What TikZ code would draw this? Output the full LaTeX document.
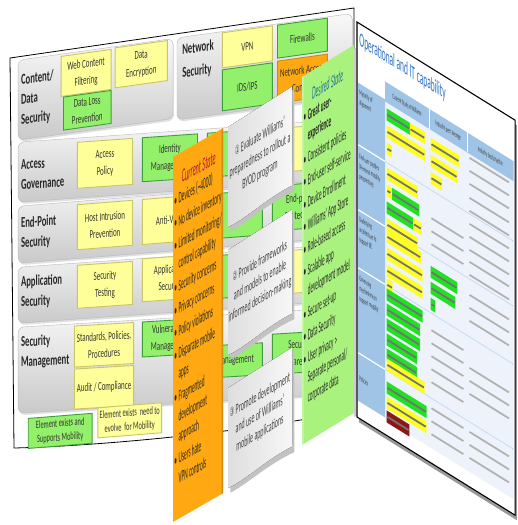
\documentclass[tikz,border=0pt]{standalone}
\usepackage{fontspec}
\setmainfont{Carlito}
\newfontfamily\numfont{DejaVu Sans}
\usetikzlibrary{positioning,shadows,calc}

\definecolor{yelFill}{HTML}{FFFF99}
\definecolor{yelEdge}{HTML}{C9C46A}
\definecolor{grnFill}{HTML}{93F06A}
\definecolor{grnEdge}{HTML}{3E9E3E}
\definecolor{orgFill}{HTML}{FFA812}
\definecolor{orgEdge}{HTML}{D08A10}
\definecolor{curRed}{HTML}{B0123A}
\definecolor{desFill}{HTML}{A9F27E}
\definecolor{desTeal}{HTML}{1C6E8E}
\definecolor{tblBlue}{HTML}{9FC4E6}
\definecolor{tblPale}{HTML}{EEF3FB}
\definecolor{capBlue}{HTML}{2E72C0}
\definecolor{hlYellow}{HTML}{FFFF22}
\definecolor{hlGreen}{HTML}{22E022}
\definecolor{hlRed}{HTML}{8E1616}

\tikzstyle{secRow}=[draw=gray!55, rounded corners=6pt, top color=gray!5, bottom color=gray!42, anchor=north west, inner sep=0pt, drop shadow={opacity=0.25, shadow xshift=1pt, shadow yshift=-2pt}]
\tikzstyle{rowLabel}=[anchor=west, align=left, inner sep=0pt, font=\fontsize{15}{20}\selectfont\bfseries, text=black!85]
\tikzstyle{yelBox}=[draw=yelEdge, fill=yelFill, line width=0.9pt, anchor=north west, align=center, inner sep=1pt, minimum width=95, font=\fontsize{12}{17}\selectfont, text=black!80]
\tikzstyle{grnBox}=[yelBox, draw=grnEdge, fill=grnFill]
\tikzstyle{orgBox}=[yelBox, draw=orgEdge, fill=orgFill]
\tikzstyle{legendBox}=[font=\fontsize{11}{14}\selectfont, minimum width=110, minimum height=30]
\tikzstyle{stateList}=[anchor=north west, align=left, inner sep=0pt, font=\fontsize{16}{20}\selectfont, text=black!85]
\tikzstyle{curHead}=[inner sep=0pt, font=\fontsize{19}{22}\selectfont\itshape, text=curRed]
\tikzstyle{desHead}=[inner sep=0pt, font=\fontsize{18}{22}\selectfont\itshape, text=desTeal]
\tikzstyle{notePaper}=[left color=gray!26, right color=gray!6]
\tikzstyle{noteShade}=[fill=black!24]
\tikzstyle{noteText}=[align=center, inner sep=0pt, font=\fontsize{14.5}{19}\selectfont, text=black!74]
\tikzstyle{capHead}=[anchor=west, inner sep=0pt, font=\fontsize{19.5}{22}\selectfont, text=capBlue]
\tikzstyle{tblHead}=[inner sep=0pt, font=\fontsize{7.5}{9}\selectfont, text=black!80]
\tikzstyle{tblRow}=[anchor=north west, align=left, inner sep=0pt, font=\fontsize{7.5}{10}\selectfont, text=black!80]

\newcommand{\itm}{\makebox[13pt][l]{\textbullet}}
\newcommand{\cnt}{\hspace*{13pt}}
\newcommand{\hlbar}[4]{\fill[#1] (#2,#3) rectangle ++(#4,12); \draw[black!55, line width=1.8pt] ($(#2,#3)+(2,6)$) -- ++(#4-4,0);}
\newcommand{\txtln}[3]{\draw[gray!60, line width=1.8pt] (#1,#2) -- ++(#3,0);}

\begin{document}
\begin{tikzpicture}[x=1pt, y=-1pt]
    \useasboundingbox (0,0) rectangle (518,525);

    % Security Framework Page
    \draw[line width=0.8pt, fill=white] (10,58) -- (354,8) -- (354,410) .. controls (250,432) and (100,446) .. (14,448) -- cycle;

    % Row 1: Content and Network
    \begin{scope}[shift={(18,60)}, yslant=0.14, xscale=0.58, transform shape]
        \node[secRow, minimum width=267, minimum height=80] (rowContent) at (0,0) {};
        \node[secRow, minimum width=302, minimum height=82] (rowNetwork) at (274,0) {};
        \node[rowLabel] (lblContent) at (5,41) {Content/\\Data\\Security};
        \node[yelBox, minimum width=86, minimum height=40] (bxWeb) at (74,2) {Web Content\\Filtering};
        \node[grnBox, minimum width=82, minimum height=33] (bxLoss) at (78,43) {Data Loss\\Prevention};
        \node[yelBox, minimum width=90, minimum height=40] (bxEncrypt) at (167,1) {Data\\Encryption};
        \node[rowLabel, font=\fontsize{15}{23}\selectfont\bfseries] (lblNetwork) at (283,25) {Network\\Security};
        \node[yelBox, minimum width=86, minimum height=35] (bxVpn) at (352,1) {VPN};
        \node[grnBox, minimum width=86, minimum height=41] (bxIds) at (352,38) {IDS/IPS};
        \node[grnBox, minimum width=86, minimum height=33] (bxFirewall) at (447,1) {Firewalls};
        \node[orgBox, minimum width=86, minimum height=42] (bxNac) at (447,37) {Network Access\\Control};
    \end{scope}

    % Row 2: Access Governance
    \begin{scope}[shift={(18,142)}, yslant=0.07, xscale=0.58, transform shape]
        \node[secRow, minimum width=576, minimum height=60] (rowAccess) at (0,0) {};
        \node[rowLabel] (lblAccess) at (5,33) {Access\\Governance};
        \node[yelBox, minimum height=46] (bxPolicy) at (102,4) {Access\\Policy};
        \node[grnBox, minimum height=44] (bxIdentity) at (214,4) {Identity\\Management};
        \node[grnBox, minimum height=44] (bxAccA) at (326,4) {};
        \node[yelBox, minimum height=44] (bxAccB) at (438,4) {};
    \end{scope}

    % Row 3: End-Point Security
    \begin{scope}[shift={(18,206)}, yslant=0.08, xscale=0.58, transform shape]
        \node[secRow, minimum width=576, minimum height=57] (rowEndpoint) at (0,0) {};
        \node[rowLabel] (lblEndpoint) at (5,28) {End-Point\\Security};
        \node[yelBox, minimum height=45] (bxHips) at (102,3) {Host Intrusion\\Prevention};
        \node[yelBox, minimum height=45] (bxAntiVirus) at (214,3) {Anti-Virus};
        \node[grnBox, minimum height=45] (bxEpA) at (326,3) {};
        \node[grnBox, minimum height=45] (bxEpProt) at (438,0) {End-point\\Protection};
    \end{scope}

    % Row 4: Application Security
    \begin{scope}[shift={(18,267)}, yslant=0.07, xscale=0.58, transform shape]
        \node[secRow, minimum width=576, minimum height=56] (rowApp) at (0,0) {};
        \node[rowLabel] (lblApp) at (5,26) {Application\\Security};
        \node[yelBox, minimum height=43] (bxSecTest) at (102,2) {Security\\Testing};
        \node[yelBox, minimum height=43] (bxAppSec) at (214,0) {Application\\Security};
        \node[grnBox, minimum height=43] (bxAppA) at (326,2) {};
        \node[yelBox, minimum height=43] (bxAppB) at (438,2) {};
    \end{scope}

    % Row 5: Security Management
    \begin{scope}[shift={(18,327)}, yslant=0.06, xscale=0.58, transform shape]
        \node[secRow, minimum width=576, minimum height=86] (rowMgmt) at (0,0) {};
        \node[rowLabel] (lblMgmt) at (5,26) {Security\\Management};
        \node[yelBox, minimum width=102, minimum height=41] (bxStd) at (97,2) {Standards, Policies,\\Procedures};
        \node[yelBox, minimum width=102, minimum height=40] (bxAudit) at (97,45) {Audit / Compliance};
        \node[grnBox, minimum height=35] (bxVuln) at (214,2) {Vulnerability\\Management};
        \node[grnBox, minimum height=32] (bxMgmtA) at (326,30) {Management};
        \node[grnBox, minimum height=40] (bxMgmtB) at (438,22) {Security\\Awareness};
    \end{scope}

    % Legend
    \begin{scope}[shift={(28,418)}, yslant=0.08, xscale=0.58, transform shape]
        \node[grnBox, legendBox] (lgGreen) at (0,0) {Element exists and\\Supports Mobility};
        \node[yelBox, legendBox] (lgYellow) at (120,-5) {Element exists~~need to\\evolve~~for Mobility};
    \end{scope}

    % Current State Panel
    \begin{scope}[cm={0.33,0.19,0,1,(173,157)}, transform shape]
        \fill[orgFill] (0,0) rectangle (152,365);
        \fill[orgEdge] (147,0) rectangle (152,365);
        \node[curHead] (curTitle) at (78,25) {Current State};
        \node[stateList] (curItems) at (4,38) {\itm Devices (\textasciitilde4000)\\[2.5pt]
            \itm No device inventory\\[2.5pt]
            \itm Limited monitoring/\\ \cnt control capability\\[2.5pt]
            \itm Security concerns\\[2.5pt]
            \itm Privacy concerns\\[2.5pt]
            \itm Policy violations\\[2.5pt]
            \itm Disparate mobile\\ \cnt apps\\[2.5pt]
            \itm Fragmented\\ \cnt development\\ \cnt approach\\[2.5pt]
            \itm Users hate\\ \cnt VPN controls};
    \end{scope}

    % Note 1
    \begin{scope}[cm={0.41,0.246,0,1,(228,127)}, transform shape]
        \fill[noteShade] (6,6) -- (162,2) -- (162,104) .. controls (100,100) and (40,108) .. (6,106) -- cycle;
        \fill[notePaper] (0,0) -- (156,-2) .. controls (158,30) and (157,70) .. (156,97) .. controls (100,94) and (40,103) .. (0,100) -- cycle;
        \node[noteText] (noteEval) at (78,48) {{\numfont\fontsize{12}{19}\selectfont ①} Evaluate Williams'\\preparedness to rollout a\\BYOD program};
    \end{scope}

    % Note 2
    \begin{scope}[cm={0.41,0.246,0,1,(228,250)}, transform shape]
        \fill[noteShade] (6,6) -- (162,2) -- (162,109) .. controls (100,105) and (40,113) .. (6,111) -- cycle;
        \fill[notePaper] (0,0) -- (156,-2) .. controls (158,30) and (157,75) .. (156,102) .. controls (100,99) and (40,108) .. (0,105) -- cycle;
        \node[noteText] (noteFrame) at (78,50) {{\numfont\fontsize{12}{19}\selectfont ②} Provide frameworks\\and models to enable\\informed decision-making};
    \end{scope}

    % Note 3
    \begin{scope}[cm={0.41,0.246,0,1,(228,388)}, transform shape]
        \fill[noteShade] (6,6) -- (162,2) -- (162,104) .. controls (100,100) and (40,108) .. (6,106) -- cycle;
        \fill[notePaper] (0,0) -- (156,-2) .. controls (158,30) and (157,70) .. (156,97) .. controls (100,94) and (40,103) .. (0,100) -- cycle;
        \node[noteText] (notePromote) at (78,46) {{\numfont\fontsize{12}{19}\selectfont ③} Promote development\\and use of Williams'\\mobile applications};
    \end{scope}

    % Desired State Panel
    \begin{scope}[cm={0.32,0.197,0,1,(302,77)}, transform shape]
        \fill[black!20] (162,4) rectangle (168,372);
        \fill[desFill] (0,0) rectangle (162,368);
        \fill[white, opacity=0.35] (0,0) rectangle (5,368);
        \node[desHead] (desTitle) at (80,23) {Desired State};
        \node[stateList] (desItems) at (5,36) {\itm \textbf{Great user-}\\ \cnt \textbf{experience}\\[2.5pt]
            \itm Consistent policies\\[2.5pt]
            \itm End-user self-service\\[2.5pt]
            \itm Device Enrollment\\[2.5pt]
            \itm Williams' App Store\\[2.5pt]
            \itm Role-based access\\[2.5pt]
            \itm Scalable app\\ \cnt development model\\[2.5pt]
            \itm Secure set-up\\[2.5pt]
            \itm Data Security\\[2.5pt]
            \itm User privacy >\\ \cnt Separate personal/\\ \cnt corporate data};
    \end{scope}

    % Operational Page
    \begin{scope}[cm={0.38,-0.236,0,1,(357,22)}, transform shape]
        \fill[black!40] (5,4) rectangle (421,399);
        \draw[line width=1.1pt, fill=white] (0,0) rectangle (416,395);
        \node[capHead] (opTitle) at (6,17) {Operational and IT capability};
        \fill[tblPale] (74,62) rectangle (412,380);
        \fill[tblBlue] (74,42) rectangle (412,62);
        \fill[tblBlue] (3,60) rectangle (74,378);
        \foreach \yy in {122,187,245,330} {
            \draw[white, line width=1.2pt] (3,\yy) -- (74,\yy);
            \draw[tblBlue!70, line width=0.6pt] (74,\yy) -- (412,\yy);
        }
        \draw[white, line width=1pt] (190,42) -- (190,62) (290,42) -- (290,62);
        \node[tblHead] (hdCur) at (132,52) {Current State at Williams};
        \node[tblHead] (hdPeer) at (240,52) {Industry peer average};
        \node[tblHead] (hdBest) at (351,52) {Industry best practice};
        \node[tblRow] (rlAlign) at (6,66) {Maturity of\\alignment};
        \node[tblRow] (rlUser) at (6,130) {End-user profiles\\(Personal mobility\\perspective)};
        \node[tblRow] (rlArch) at (6,193) {Underlying\\architecture to\\support BE};
        \node[tblRow] (rlGov) at (6,252) {Governing\\mechanisms to\\support mobility};
        \node[tblRow] (rlPolicy) at (6,352) {Policies};
        % current state cells
        \hlbar{hlGreen}{78}{68}{61} \hlbar{hlYellow}{139}{68}{40}
        \hlbar{hlYellow}{78}{85}{101} \hlbar{hlYellow}{78}{102}{14}
        \hlbar{hlYellow}{78}{127}{82} \hlbar{hlYellow}{78}{144}{12} \hlbar{hlGreen}{92}{144}{72}
        \hlbar{hlGreen}{78}{161}{70} \hlbar{hlYellow}{148}{161}{22} \hlbar{hlYellow}{78}{178}{82}
        \hlbar{hlYellow}{78}{190}{90} \hlbar{hlYellow}{78}{207}{95} \hlbar{hlYellow}{78}{224}{95} \hlbar{hlYellow}{78}{238}{16}
        \hlbar{hlGreen}{78}{248}{95} \hlbar{hlGreen}{78}{263}{88} \hlbar{hlGreen}{78}{278}{88}
        \hlbar{hlGreen}{78}{293}{80} \hlbar{hlGreen}{78}{308}{80} \hlbar{hlYellow}{78}{318}{100}
        \hlbar{hlGreen}{78}{341}{105} \hlbar{hlYellow}{78}{356}{105} \hlbar{hlRed}{78}{370}{60}
        % peer average cells
        \hlbar{hlYellow}{194}{70}{75} \hlbar{hlYellow}{194}{87}{70} \hlbar{hlYellow}{194}{104}{30}
        \foreach \yy in {150,163,176,262,275,288,301,314,340,353,366} {\txtln{196}{\yy}{84}}
        \hlbar{hlGreen}{194}{198}{70} \hlbar{hlGreen}{194}{214}{65} \hlbar{hlGreen}{194}{230}{12}
        % best practice cells
        \foreach \yy in {66,79,92,106,119,132,145,158,170,183,203,216,229,276,289,302,340,353,366} {\txtln{296}{\yy}{104}}
    \end{scope}

\end{tikzpicture}
\end{document}
